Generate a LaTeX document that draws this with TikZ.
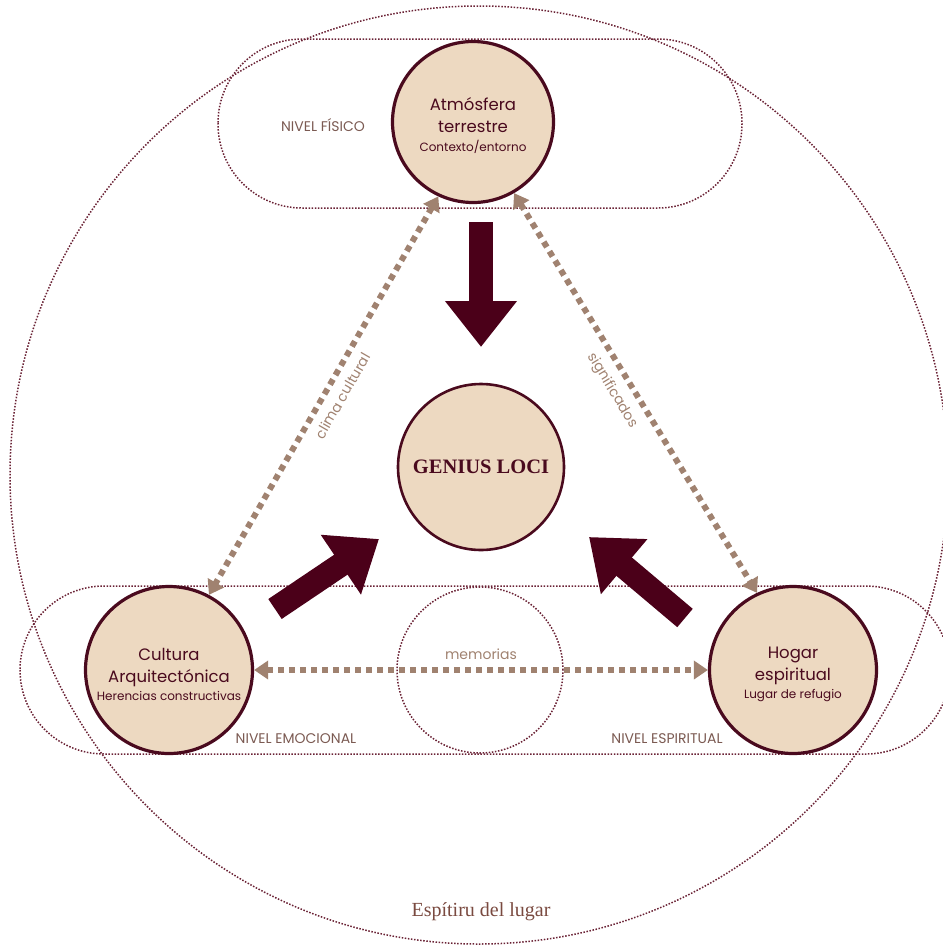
\documentclass[tikz,border=0pt]{standalone}
\usepackage{fontspec}
\setmainfont{Poppins}
\newfontfamily\serifft{Liberation Serif}
\usetikzlibrary{arrows.meta}
\definecolor{maroon}{HTML}{4A0A1E}
\definecolor{bigarrow}{HTML}{4B0019}
\definecolor{cream}{HTML}{EDD9C1}
\definecolor{tanlink}{HTML}{A08270}
\definecolor{labelbrown}{HTML}{7B5A52}
\definecolor{dotline}{HTML}{6A2235}
\definecolor{titlebrown}{HTML}{7A4A40}
\begin{document}
\begin{tikzpicture}[x=1pt,y=-1pt,
  outline/.style={draw=dotline, line width=1.5pt, dash pattern=on 1.5pt off 1.6pt},
  bubble/.style={circle, draw=maroon, line width=3.2pt, fill=cream, inner sep=0pt,
    text=maroon, align=center, font=\fontsize{16.5}{22}\selectfont},
  link/.style={draw=tanlink, line width=6pt, dash pattern=on 6pt off 5pt,
    {Triangle[length=14pt,width=18pt]}-{Triangle[length=14pt,width=18pt]}},
  flow/.style={draw=bigarrow, line width=24pt, -{Triangle[length=46pt,width=69pt]}},
  level/.style={text=labelbrown, font=\fontsize{14}{16}\selectfont},
  linklabel/.style={text=tanlink, font=\fontsize{14}{16}\selectfont}]
\useasboundingbox (0,0) rectangle (943,946);
% dotted outlines
\draw[outline] (479,475) circle[radius=469pt];
\draw[outline, rounded corners=84pt] (218,39) rectangle (742,208);
\draw[outline, rounded corners=84pt] (20,586) rectangle (950,754);
\draw[outline] (480,670) circle[radius=83pt];
% nodes
\node[bubble, minimum size=161pt] (atm) at (473,122)
  {\rule{0pt}{21pt}Atmósfera\\terrestre\\[-3pt]{\fontsize{12}{14}\selectfont Contexto/entorno}};
\node[bubble, minimum size=166pt, line width=2.6pt] (gen) at (481,467)
  {\serifft\bfseries\fontsize{20.5}{22}\selectfont GENIUS LOCI};
\node[bubble, minimum size=167pt] (cul) at (169,670)
  {\rule{0pt}{21pt}Cultura\\Arquitectónica\\[-4pt]{\fontsize{12}{14}\selectfont Herencias constructivas}};
\node[bubble, minimum size=167pt] (hog) at (793,670)
  {\rule{0pt}{21pt}Hogar\\espiritual\\[-4pt]{\fontsize{12}{14}\selectfont Lugar de refugio}};
% big arrows
\coordinate (d1) at (481,222); \coordinate (d2) at (481,347);
\coordinate (l1) at (275,609); \coordinate (l2) at (379,539);
\coordinate (r1) at (685,618); \coordinate (r2) at (589,537);
\draw[flow] (d1) -- (d2);
\draw[flow] (l1) -- (l2);
\draw[flow] (r1) -- (r2);
% links
\draw[link] (atm.245) -- node[linklabel, sloped, below=5pt, pos=0.48] (clima) {clima cultural} (cul.62);
\draw[link] (atm.300) -- node[linklabel, sloped, below=5pt, pos=0.47] (sig) {significados} (hog.115);
\draw[link] (cul.east) -- node[linklabel, above=4pt] (mem) {memorias} (hog.west);
% level labels
\node[level] (nf) at (323,125) {NIVEL FÍSICO};
\node[level] (ne) at (296,739) {NIVEL EMOCIONAL};
\node[level] (ns) at (667,739) {NIVEL ESPIRITUAL};
\node[text=titlebrown, font=\serifft\fontsize{20}{22}\selectfont] (title) at (481,912) {Espítiru del lugar};
\end{tikzpicture}
\end{document}
